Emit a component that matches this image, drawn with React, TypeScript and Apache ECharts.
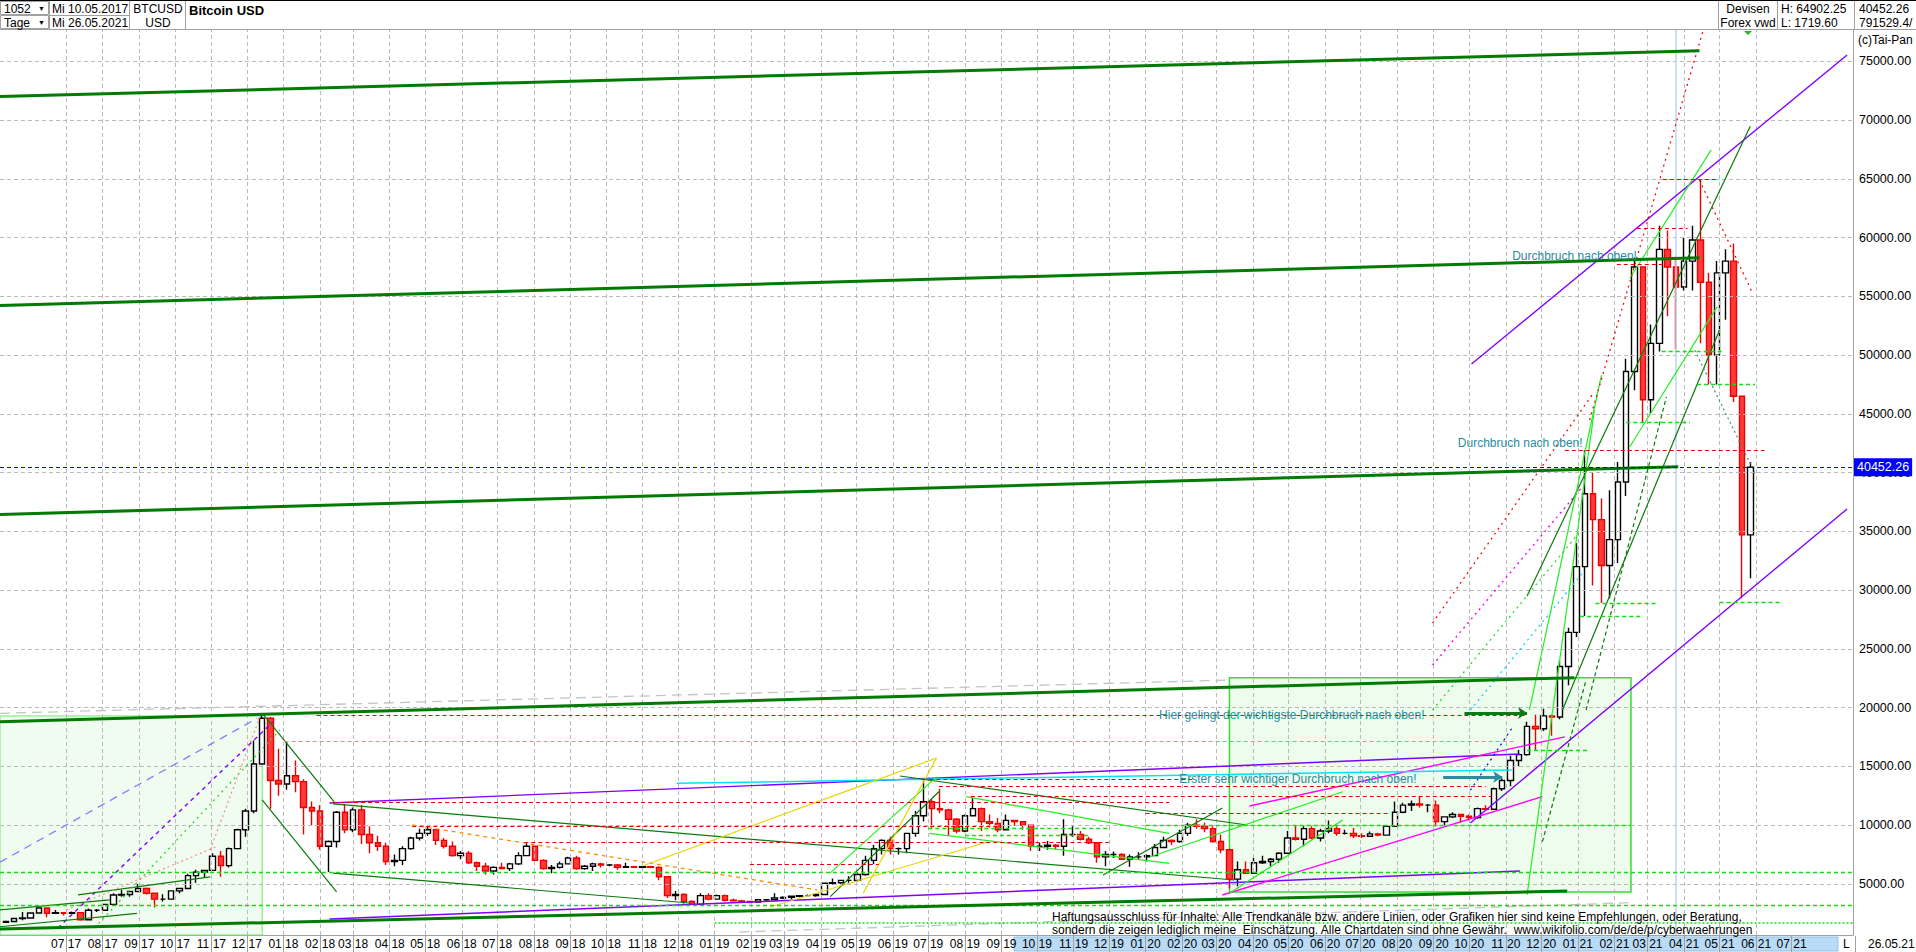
import React, { useEffect, useRef } from 'react';
import * as echarts from 'echarts';

const FONT = "'Liberation Sans', Arial, Helvetica, sans-serif";

// ---------- DATA ----------
// weekly candles [open, close, low, high]; first week starts Mon 2017-05-08
const FIRST_WEEK_MID = '2017-05-11';
const ohlc2017 = [
  [1720,1790,1700,1850],[1790,2050,1730,2100],[2050,2100,1900,2600],[2100,2520,2100,2550],
  [2520,2950,2500,2980],[2950,2500,2150,2990],[2500,2550,2450,2780],[2550,2500,2300,2600],
  [2500,2550,2480,2650],[2550,1950,1850,2550],[1950,2750,1950,2900],[2750,2750,2600,2850],
  [2750,3250,2700,3290],[3250,4050,3250,4200],[4050,4100,3900,4480],[4100,4350,3900,4380],
  [4350,4600,4350,4980],[4600,4200,4100,4700],[4200,3700,2980,4250],[3700,3700,3500,4120],
  [3700,4400,3700,4400],[4400,4600,4200,4600],[4600,5700,4600,5850],[5700,6000,5100,6200],
  [6000,6150,5500,6200],[6150,7350,6100,7600],[7350,6550,5600,7800],[6550,8000,6400,8100],
  [8000,9600,8000,9700],[9600,11200,9000,11400],[11200,15200,11000,17200],[15200,19100,15200,19400],
  [19100,13800,11400,19200],[13800,13500,12500,16500],
];
const ohlc2018 = [
  [13500,14200,13000,17100],[14200,13700,12800,15500],[13700,11500,9200,13900],[11500,11200,10000,12000],
  [11200,8200,7900,11700],[8200,8600,6000,8700],[8600,11100,8100,11200],[11100,9600,9300,11800],
  [9600,11300,9400,11500],[11300,9200,8400,11700],[9200,8500,7600,9900],[8500,8200,7800,9100],
  [8200,6900,6600,8500],[6900,7000,6500,7500],[7000,8000,6600,8200],[8000,8900,7900,9000],
  [8900,9300,8700,9700],[9300,9600,9100,9900],[9600,8700,8300,9700],[8700,8200,8000,8900],
  [8200,7400,7300,8600],[7400,7600,7100,7800],[7600,6800,6700,7800],[6800,6500,6100,6900],
  [6500,6100,5800,6800],[6100,6400,5800,6500],[6400,6300,6250,6800],[6300,6700,6100,6800],
  [6700,7400,6600,7700],[7400,8200,7400,8500],[8200,7000,6900,8200],[7000,6300,6200,7100],
  [6300,6400,5900,6600],[6400,6700,6300,6900],[6700,7200,6700,7300],[7200,6300,6200,7400],
  [6300,6500,6200,6600],[6500,6700,6100,6800],[6700,6600,6400,6800],[6600,6600,6500,6700],
  [6600,6400,6200,6700],[6400,6450,6400,6800],[6450,6400,6350,6500],[6400,6450,6300,6500],
  [6450,6400,6350,6550],[6400,5600,5300,6500],[5600,4000,3800,5600],[4000,4100,3600,4400],
  [4100,3500,3300,4200],[3500,3250,3200,3600],[3250,4000,3250,4200],[4000,3700,3600,4200],
];
const ohlc2019 = [
  [3700,4000,3700,4100],[4000,3600,3500,4100],[3600,3550,3500,3750],[3550,3500,3450,3650],
  [3500,3450,3350,3550],[3450,3650,3400,3700],[3650,3650,3550,3700],[3650,3800,3650,4200],
  [3800,3850,3700,3950],[3850,3950,3700,3950],[3950,4000,3850,4050],[4000,4000,3950,4100],
  [4000,4100,3900,4150],[4100,5050,4100,5100],[5050,5100,4950,5450],[5100,5300,5000,5350],
  [5300,5300,5100,5650],[5300,5800,5200,5900],[5800,7000,5700,7400],[7000,8000,6700,8300],
  [8000,8700,7500,8800],[8700,8000,7500,9000],[8000,8000,7500,8100],[8000,9300,7600,9300],
  [9300,10800,9000,11200],[10800,12000,10300,13800],[12000,11400,9700,12200],[11400,11300,11000,13100],
  [11300,10500,9100,11400],[10500,9500,9300,10600],[9500,10800,9400,10900],[10800,11400,10800,12300],
  [11400,10300,9500,11500],[10300,10150,9800,10900],[10150,9600,9400,10600],[9600,10400,9600,10900],
  [10400,10300,9950,10450],[10300,10000,9600,10300],[10000,8200,7800,10000],[8200,8200,7800,8500],
  [8200,8300,7900,8650],[8300,8200,7900,8400],[8200,9200,7400,10500],[9200,9200,9000,9900],
  [9200,8800,8700,9500],[8800,8500,8400,9000],[8500,7300,6800,8500],[7300,7500,6500,7800],
  [7500,7500,7200,7750],[7500,7100,7050,7600],[7100,7300,6450,7500],[7300,7300,7100,7700],
];
const ohlc2020 = [
  [7300,7400,6900,7500],[7400,8100,7400,8400],[8100,8700,8100,9000],[8700,8600,8300,8800],
  [8600,9300,8500,9600],[9300,10000,9100,10200],[10000,9900,9700,10500],[9900,9700,9400,10200],
  [9700,8600,8500,9900],[8600,7900,7600,9200],[7900,5400,4600,8000],[5400,6200,4800,6900],
  [6200,5900,5850,6900],[5900,6800,5850,7200],[6800,6900,6700,7400],[6900,7100,6500,7200],
  [7100,7600,6800,7700],[7600,8900,7600,9500],[8900,8800,8700,10000],[8800,9700,8200,9900],
  [9700,8900,8800,9900],[8900,9500,8600,9700],[9500,9700,9300,10400],[9700,9300,9100,9900],
  [9300,9300,9200,9600],[9300,9100,8900,9750],[9100,9050,8900,9300],[9050,9250,9000,9450],
  [9250,9150,9050,9350],[9150,9900,9100,10000],[9900,11100,9850,12000],[11100,11700,11000,11900],
  [11700,11800,11200,12100],[11800,11700,11500,12450],[11700,11700,11100,11800],[11700,10300,9900,12100],
  [10300,10700,9900,10750],[10700,10900,10600,11100],[10900,10750,10200,10950],[10750,10650,10400,10900],
  [10650,11400,10550,11500],[11400,11350,11200,11700],[11350,13100,11300,13200],[13100,13800,12900,14000],
  [13800,15500,13300,15900],[15500,16000,15000,16400],[16000,18400,15900,18800],[18400,18200,16300,19400],
  [18200,19300,18000,19900],[19300,19200,17600,19400],[19200,23500,19000,24000],[23500,26400,21900,26800],
  [26400,32000,26000,34000],
];
const ohlc2021 = [
  [32000,38200,27800,41900],[38200,36000,30400,40000],[36000,32100,28900,37800],[32100,34300,29300,38500],
  [34300,39200,32300,40900],[39200,48600,38000,49700],[48600,57500,47000,58300],[57500,46200,44300,57500],
  [46200,51000,45000,52600],[51000,59000,50300,61000],[59000,57500,53300,60600],[57500,55800,50500,58400],
  [55800,58000,55500,60000],[58000,59800,55500,61000],[59800,56200,51000,64900],[56200,50000,47500,57000],
  [50000,57000,47500,58000],[57000,58000,53000,59000],[58000,46500,46000,59500],[46500,34700,29300,46500],
  [34700,40452.26,31000,40900],
];
const LAST_PRICE = 40452.26;

const monthTicks = [
  '2017-07-01','2017-08-01','2017-09-01','2017-10-01','2017-11-01','2017-12-01',
  '2018-01-01','2018-02-01','2018-03-01','2018-04-01','2018-05-01','2018-06-01',
  '2018-07-01','2018-08-01','2018-09-01','2018-10-01','2018-11-01','2018-12-01',
  '2019-01-01','2019-02-01','2019-03-01','2019-04-01','2019-05-01','2019-06-01',
  '2019-07-01','2019-08-01','2019-09-01','2019-10-01','2019-11-01','2019-12-01',
  '2020-01-01','2020-02-01','2020-03-01','2020-04-01','2020-05-01','2020-06-01',
  '2020-07-01','2020-08-01','2020-09-01','2020-10-01','2020-11-01','2020-12-01',
  '2021-01-01','2021-02-01','2021-03-01','2021-04-01','2021-05-01','2021-06-01','2021-07-01',
];
const yTicks = [5000,10000,15000,20000,25000,30000,35000,40000,45000,50000,55000,60000,65000,70000,75000];

// trend lines [date1, value1, date2, value2]
const thickGreen = [
  ['2017-05-06', 72000, '2021-04-14', 75900],
  ['2017-05-06', 54220, '2021-04-14', 58290],
  ['2017-05-06', 36440, '2021-03-27', 40500],
  ['2017-05-06', 18800, '2020-12-29', 22550],
  ['2017-05-06', 1150, '2020-12-23', 4400],
];
const purple = [
  ['2020-10-03', 49240, '2021-08-17', 75540],
  ['2020-10-02', 10180, '2021-08-17', 36900],
  ['2018-02-09', 11880, '2020-11-13', 16050],
  ['2018-02-09', 2010, '2020-11-13', 6100],
];
const purpleDashed = [['2017-06-24', 1240, '2017-12-23', 18770]];
const magenta = [
  ['2020-03-06', 4050, '2020-12-02', 12420],
  ['2020-03-29', 11630, '2020-12-21', 17510],
];
const magentaDotted = [['2020-08-31', 23620, '2021-01-05', 38800]];
const cyan = [['2018-11-30', 13560, '2020-11-06', 14690]];
const cyanDotted = [['2020-10-02', 19790, '2021-01-05', 31450]];
const darkGreen = [
  ['2020-11-19', 29490, '2021-05-27', 69470],
  ['2020-12-19', 19790, '2021-05-01', 52130],
  ['2017-12-14', 19540, '2018-02-13', 11970],
  ['2017-12-14', 12140, '2018-02-15', 4310],
  ['2018-02-12', 11800, '2020-03-16', 5330],
  ['2019-06-07', 14180, '2020-03-27', 10010],
  ['2018-02-12', 5920, '2018-12-11', 3370],
  ['2017-05-06', 2780, '2017-08-07', 3630],
  ['2017-05-06', 1350, '2017-08-30', 2490],
  ['2017-07-11', 4060, '2017-10-31', 5600],
  ['2019-04-09', 3910, '2019-07-10', 12840],
  ['2019-11-26', 5750, '2020-03-06', 11460],
];
const darkGreenDashed = [
  ['2021-01-08', 19790, '2021-03-17', 46440],
  ['2020-12-02', 8590, '2021-01-08', 22350],
];
const lightGreen = [
  ['2020-11-21', 19790, '2021-01-21', 48300],
  ['2020-11-19', 4050, '2021-01-15', 45320],
  ['2021-02-14', 56540, '2021-04-24', 67460],
  ['2021-02-14', 42200, '2021-04-29', 54120],
  ['2019-08-02', 12420, '2020-01-21', 9300],
  ['2019-07-02', 9300, '2020-01-21', 6750],
  ['2019-04-09', 5930, '2019-07-08', 14100],
  ['2020-01-05', 7310, '2020-06-16', 12840],
  ['2020-03-12', 4200, '2020-06-16', 10430],
];
const lightGreenDotted = [
  ['2020-08-31', 19790, '2021-01-02', 34870],
  ['2017-07-25', 1240, '2017-12-29', 18100],
];
const redDotted = [
  ['2020-08-31', 27200, '2021-01-14', 46750],
  ['2021-01-11', 44480, '2021-04-17', 77600],
  ['2021-04-14', 64900, '2021-05-29', 55270],
];
const pinkDotted = [
  ['2017-10-31', 7900, '2017-12-12', 19200],
  ['2017-07-01', 2780, '2017-11-05', 8160],
];
const orangeDashed = [['2018-04-20', 10010, '2019-03-29', 4480]];
const yellow = [
  ['2018-11-01', 6520, '2019-07-08', 15710],
  ['2019-02-17', 3030, '2019-08-20', 8560],
  ['2019-05-07', 4230, '2019-07-08', 15710],
];
const blueDashed = [['2017-05-06', 6850, '2017-12-10', 19110]];
const blueDotted = [['2020-10-02', 12970, '2020-11-07', 18370]];
const greyDashed = [
  ['2017-05-06', 19510, '2020-03-12', 22340],
  ['2019-01-22', 900, '2021-02-15', 3400],
];
const tealDotted = [['2021-04-10', 50420, '2021-05-31', 39940]];

// horizontal levels [value, fromDate, toDate]
const greenLevels = [
  [5980, '2017-05-06', '2021-08-22'],
  [3200, '2017-05-06', '2021-08-22'],
  [9950, '2020-01-01', '2021-02-15'],
  [16330, '2020-11-19', '2021-01-10'],
  [50300, '2021-03-13', '2021-05-05'],
  [47500, '2021-04-12', '2021-05-31'],
  [44300, '2021-02-11', '2021-04-06'],
  [29000, '2021-05-01', '2021-06-23'],
  [28880, '2021-01-16', '2021-03-08'],
  [27800, '2021-01-03', '2021-02-24'],
  [9750, '2019-07-01', '2019-12-01'],
  [9100, '2019-08-01', '2019-11-15'],
];
const greenDottedLevels = [[1700, '2019-01-01', '2021-08-22']];
const redLevels = [
  [19370, '2018-01-29', '2020-11-19'],
  [13900, '2019-06-26', '2020-02-10'],
  [13330, '2019-07-10', '2020-10-15'],
  [12420, '2019-08-06', '2020-10-20'],
  [11940, '2018-02-12', '2020-01-21'],
  [11000, '2020-01-01', '2020-07-25'],
  [9870, '2018-04-20', '2019-09-01'],
  [8540, '2018-07-24', '2019-12-01'],
  [6660, '2019-01-31', '2019-05-20'],
  [41900, '2020-12-21', '2021-06-08'],
  [65000, '2021-03-14', '2021-04-30'],
  [60800, '2021-02-20', '2021-04-04'],
  [57700, '2021-02-03', '2021-03-14'],
];
const pinkLevels = [[17150, '2018-01-02', '2020-11-10']];

// shaded boxes [date1, value1, date2, value2]
const shade2017 = ['2017-05-06', 647, '2017-12-14', 19290];
const breakoutBox = ['2020-03-12', 4300, '2021-02-15', 22530];
const todayMarker = '2021-03-25';

const greenArrow = ['2020-09-27', 19540, '2020-11-19', 19540];
const tealArrow = ['2020-09-09', 14090, '2020-10-29', 14090];

const notes = [
  { text: 'Durchbruch nach oben!', date: '2020-11-06', value: 58430 },
  { text: 'Durchbruch nach oben!', date: '2020-09-21', value: 42560 },
  { text: 'Hier gelingt der wichtigste Durchbruch nach oben!', date: '2020-01-12', value: 19370 },
  { text: 'Erster sehr wichtiger Durchbruch nach oben!', date: '2020-01-29', value: 13900 },
];

const X_MIN = '2017-05-06';
const X_MAX = '2021-08-22';
const Y_MIN = 647;
const Y_MAX = 77668;

// ---------- HELPERS ----------
const T = (s: string) => {
  const [y, m, d] = s.split('-').map(Number);
  return new Date(y, m - 1, d).getTime();
};

const lineGroup = (name: string, segs: any[], style: any, z = 4, symbol: any = ['none', 'none']) => ({
  type: 'line',
  name,
  data: [],
  z,
  silent: true,
  markLine: {
    silent: true,
    symbol,
    symbolSize: 9,
    animation: false,
    label: { show: false },
    emphasis: { disabled: true },
    lineStyle: style,
    data: segs.map(([d1, v1, d2, v2]: any) => [{ coord: [T(d1), v1] }, { coord: [T(d2), v2] }]),
  },
});
const levelGroup = (name: string, lv: any[], style: any, z = 4) =>
  lineGroup(name, lv.map(([v, d1, d2]: any) => [d1, v, d2, v]), style, z);

const areaGroup = (name: string, box: any[], style: any, z = 1) => ({
  type: 'line',
  name,
  data: [],
  z,
  silent: true,
  markArea: {
    silent: true,
    itemStyle: style,
    emphasis: { disabled: true },
    data: [[{ coord: [T(box[0]), box[1]] }, { coord: [T(box[2]), box[3]] }]],
  },
});

const txt = (x: number, y: number, text: string, extra: any = {}) => ({
  type: 'text',
  x,
  y,
  z: 100,
  silent: true,
  style: {
    text,
    fill: '#000',
    font: `12px ${FONT}`,
    textAlign: 'left',
    textVerticalAlign: 'middle',
    align: 'left',
    verticalAlign: 'middle',
    ...extra,
  },
});
const hline = (x1: number, y: number, x2: number, color = '#a0a0a0') => ({
  type: 'line', z: 100, silent: true, shape: { x1, y1: y, x2, y2: y }, style: { stroke: color, lineWidth: 1 },
});
const vline = (x: number, y1: number, y2: number, color = '#a0a0a0') => ({
  type: 'line', z: 100, silent: true, shape: { x1: x, y1, x2: x, y2 }, style: { stroke: color, lineWidth: 1 },
});

function buildOption() {
  const ohlc = [...ohlc2017, ...ohlc2018, ...ohlc2019, ...ohlc2020, ...ohlc2021];
  const baseDate = new Date(T(FIRST_WEEK_MID));
  const candles = ohlc.map((c, i) => {
    const d = new Date(baseDate.getFullYear(), baseDate.getMonth(), baseDate.getDate() + 7 * i).getTime();
    return [d, c[0], c[1], c[2], c[3]];
  });
  const tickVals = monthTicks.map(T);
  const gridMonths = monthTicks.slice(0, -1).map(T);

  const series: any[] = [
    areaGroup('shade2017', shade2017, { color: '#f1fcf1', borderColor: '#66ee66', borderWidth: 1 }, 0),
    areaGroup('box', breakoutBox, { color: '#eefcee', borderColor: '#33dd33', borderWidth: 1.5 }, 0),
    {
      type: 'line', name: 'grid', data: [], z: 1, silent: true,
      markLine: {
        silent: true, symbol: ['none', 'none'], animation: false, label: { show: false },
        emphasis: { disabled: true },
        lineStyle: { color: '#bababa', width: 1, type: [4, 3] },
        data: [...yTicks.map((v) => ({ yAxis: v })), ...gridMonths.map((t) => ({ xAxis: t }))],
      },
    },
    {
      type: 'line', name: 'marker', data: [], z: 1, silent: true,
      markLine: {
        silent: true, symbol: ['none', 'none'], animation: false, label: { show: false },
        emphasis: { disabled: true },
        lineStyle: { color: '#bcd6ee', width: 1.5, type: 'solid' },
        data: [{ xAxis: T(todayMarker) }],
      },
    },
    lineGroup('greyDashed', greyDashed, { color: '#c4c4c4', width: 1.3, type: [10, 6] }, 2),
    {
      type: 'candlestick',
      name: 'BTCUSD',
      z: 3,
      data: candles,
      encode: { x: 0, y: [1, 2, 3, 4] },
      barWidth: 6,
      itemStyle: {
        color: '#ffffff',
        color0: '#ff3a3a',
        borderColor: '#000000',
        borderColor0: '#ee0000',
        borderWidth: 1.4,
      },
    },
    lineGroup('purple', purple, { color: '#8000ff', width: 1.4, type: 'solid' }),
    lineGroup('purpleDashed', purpleDashed, { color: '#8000ff', width: 1.4, type: [4, 4] }),
    lineGroup('magenta', magenta, { color: '#ff00ff', width: 1.4, type: 'solid' }),
    lineGroup('magentaDotted', magentaDotted, { color: '#ff00ff', width: 1.4, type: [2, 4] }),
    lineGroup('cyan', cyan, { color: '#00e5f5', width: 1.5, type: 'solid' }),
    lineGroup('cyanDotted', cyanDotted, { color: '#00d8f0', width: 1.3, type: [2, 4] }),
    lineGroup('darkGreen', darkGreen, { color: '#0a7a0a', width: 1.2, type: 'solid' }),
    lineGroup('darkGreenDashed', darkGreenDashed, { color: '#0a7a0a', width: 1.2, type: [4, 3] }),
    lineGroup('lightGreen', lightGreen, { color: '#22ee22', width: 1.2, type: 'solid' }),
    lineGroup('lightGreenDotted', lightGreenDotted, { color: '#22dd22', width: 1.3, type: [2, 4] }),
    lineGroup('redDotted', redDotted, { color: '#ee0000', width: 1.2, type: [2, 4] }),
    lineGroup('pinkDotted', pinkDotted, { color: '#f09090', width: 1.2, type: [2, 3] }),
    lineGroup('orangeDashed', orangeDashed, { color: '#ff8c00', width: 1.3, type: [4, 4] }),
    lineGroup('yellow', yellow, { color: '#e6d600', width: 1.2, type: 'solid' }),
    lineGroup('blueDashed', blueDashed, { color: '#8080ff', width: 1.3, type: [8, 6] }),
    lineGroup('blueDotted', blueDotted, { color: '#0000ee', width: 1.2, type: [2, 4] }),
    lineGroup('tealDotted', tealDotted, { color: '#4a8a8a', width: 1.2, type: [2, 3] }),
    levelGroup('greenLevels', greenLevels, { color: '#11dd11', width: 1.3, type: [4, 3] }),
    levelGroup('greenDottedLevels', greenDottedLevels, { color: '#11dd11', width: 1.5, type: [2, 2] }),
    levelGroup('redLevels', redLevels, { color: '#ee0000', width: 1.2, type: [4, 3] }),
    levelGroup('pinkLevels', pinkLevels, { color: '#f08888', width: 1.2, type: [4, 3] }),
    lineGroup('thickGreen', thickGreen, { color: '#007a00', width: 3, type: 'solid' }, 5),
    lineGroup('greenArrow', [greenArrow], { color: '#157515', width: 3, type: 'solid' }, 6, ['none', 'arrow']),
    lineGroup('tealArrow', [tealArrow], { color: '#2a8c9c', width: 3, type: 'solid' }, 6, ['none', 'arrow']),
    {
      type: 'line', name: 'price', data: [], z: 7, silent: true,
      markLine: {
        silent: true, symbol: ['none', 'none'], animation: false,
        emphasis: { disabled: true },
        lineStyle: { color: '#0000ff', width: 1.2, type: [4, 3] },
        label: {
          show: true, position: 'end', formatter: LAST_PRICE.toFixed(2), color: '#ffffff',
          backgroundColor: '#0000ff', padding: [3, 3, 2, 3], fontSize: 12.5, fontFamily: FONT, distance: 1,
        },
        data: [{ yAxis: LAST_PRICE }],
      },
    },
    {
      type: 'line', name: 'notes', data: [], z: 8, silent: true,
      markPoint: {
        silent: true, symbol: 'rect', symbolSize: 1, animation: false,
        itemStyle: { color: 'rgba(0,0,0,0)' },
        label: {
          show: true, position: 'right', distance: 0, formatter: '{b}', color: '#2a8c9c',
          fontSize: 12, fontFamily: FONT,
        },
        data: notes.map((n) => ({ name: n.text, coord: [T(n.date), n.value] })),
      },
    },
  ];

  const graphic: any[] = [
    hline(0, 0.5, 1916, '#000000'),
    hline(0, 29.5, 1916),
    { type: 'rect', z: 100, silent: true, shape: { x: 0.5, y: 1.5, width: 48, height: 13 }, style: { fill: 'none', stroke: '#a0a0a0' } },
    { type: 'rect', z: 100, silent: true, shape: { x: 0.5, y: 15.5, width: 48, height: 13 }, style: { fill: 'none', stroke: '#a0a0a0' } },
    vline(49.5, 1, 29), vline(129.5, 1, 29), vline(185.5, 1, 29),
    hline(49, 15.5, 129),
    vline(1718.5, 1, 29), vline(1777.5, 1, 29), vline(1854.5, 1, 29),
    txt(4, 8.5, '1052'), txt(38, 8.5, '▼', { font: `7px ${FONT}` }),
    txt(4, 22.5, 'Tage'), txt(38, 22.5, '▼', { font: `7px ${FONT}` }),
    txt(52, 8.5, 'Mi 10.05.2017'), txt(52, 22.5, 'Mi 26.05.2021'),
    txt(158, 8.5, 'BTCUSD', { textAlign: 'center', align: 'center' }),
    txt(158, 22.5, 'USD', { textAlign: 'center', align: 'center' }),
    txt(189, 10.5, 'Bitcoin USD', { font: `bold 13px ${FONT}` }),
    txt(1748, 8.5, 'Devisen', { textAlign: 'center', align: 'center' }),
    txt(1748, 22.5, 'Forex vwd', { textAlign: 'center', align: 'center' }),
    txt(1781, 8.5, 'H: 64902.25'), txt(1781, 22.5, 'L: 1719.60'),
    txt(1859, 8.5, '40452.26'), txt(1859, 22.5, '791529.4/'),
    txt(1858, 40, '(c)Tai-Pan'),
    { type: 'polygon', z: 100, silent: true, shape: { points: [[1744, 31], [1752, 31], [1748, 35]] }, style: { fill: '#22bb22' } },
    txt(1052, 917, 'Haftungsausschluss für Inhalte: Alle Trendkanäle bzw. andere Linien, oder Grafiken hier sind keine Empfehlungen, oder Beratung,'),
    txt(1052, 930, 'sondern die zeigen lediglich meine  Einschätzung. Alle Chartdaten sind ohne Gewähr.  www.wikifolio.com/de/de/p/cyberwaehrungen'),
    { type: 'rect', z: -10, silent: true, shape: { x: 1014, y: 937, width: 824, height: 14 }, style: { fill: '#b9dbf6', stroke: '#8fbfe6' } },
    vline(1855.5, 936, 952),
    txt(1843, 944, 'L'), txt(1868, 944, '26.05.21'),
  ];

  return {
    animation: false,
    backgroundColor: '#ffffff',
    textStyle: { fontFamily: FONT },
    grid: { left: 0, right: 63, top: 30, bottom: 17, containLabel: false, show: false },
    xAxis: {
      type: 'value',
      min: T(X_MIN),
      max: T(X_MAX),
      axisLine: { show: true, lineStyle: { color: '#a0a0a0' } },
      axisTick: { show: true, customValues: tickVals, length: 17, lineStyle: { color: '#a0a0a0' } },
      axisLabel: {
        customValues: tickVals,
        color: '#000',
        fontSize: 12,
        fontFamily: FONT,
        margin: 3,
        hideOverlap: false,
        formatter: (v: number) => {
          const d = new Date(v);
          return String(d.getMonth() + 1).padStart(2, '0') + ' ' + String(d.getFullYear() % 100).padStart(2, '0');
        },
      },
      splitLine: { show: false },
    },
    yAxis: {
      type: 'value',
      position: 'right',
      min: Y_MIN,
      max: Y_MAX,
      axisLine: { show: true, lineStyle: { color: '#a0a0a0' } },
      axisTick: { show: false },
      axisLabel: {
        customValues: yTicks,
        color: '#000',
        fontSize: 12.5,
        fontFamily: FONT,
        margin: 6,
        formatter: (v: number) => v.toFixed(2),
      },
      splitLine: { show: false },
    },
    series,
    graphic,
  };
}

export default function App() {
  const ref = useRef<HTMLDivElement>(null);
  useEffect(() => {
    if (!ref.current) return;
    const chart = echarts.init(ref.current, undefined, { renderer: 'svg' });
    chart.setOption(buildOption() as any);
    return () => chart.dispose();
  }, []);
  return (
    <div
      ref={ref}
      style={{ position: 'fixed', left: 0, top: 0, width: 1916, height: 952, background: '#fff' }}
    />
  );
}
